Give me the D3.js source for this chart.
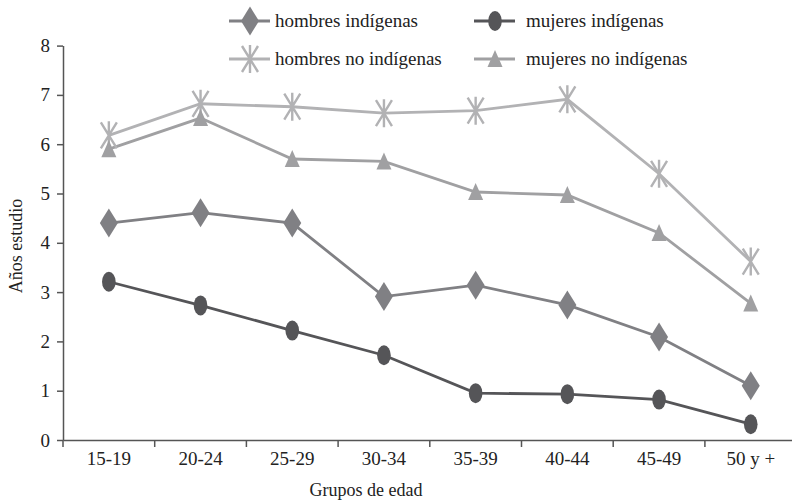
<!DOCTYPE html>
<html>
<head>
<meta charset="utf-8">
<script src="https://cdn.jsdelivr.net/npm/d3@7"></script>
<style>
  html, body { margin: 0; padding: 0; background: #fff; }
  text { font-family: "Liberation Serif", "DejaVu Serif", serif; fill: #222; }
</style>
</head>
<body>
<svg id="chart" width="792" height="500"></svg>
<script>
const categories = ["15-19", "20-24", "25-29", "30-34", "35-39", "40-44", "45-49", "50 y +"];
const hombresIndigenas   = [4.40, 4.61, 4.40, 2.91, 3.14, 2.74, 2.09, 1.10];
const mujeresIndigenas   = [3.21, 2.73, 2.22, 1.72, 0.95, 0.93, 0.82, 0.32];
const hombresNoIndigenas = [6.18, 6.82, 6.76, 6.63, 6.68, 6.91, 5.40, 3.62];
const mujeresNoIndigenas = [5.90, 6.53, 5.70, 5.65, 5.03, 4.97, 4.20, 2.77];
const yTicks = [0, 1, 2, 3, 4, 5, 6, 7, 8];

const series = [
  { name: "hombres indígenas", values: hombresIndigenas, color: "#808084", marker: "diamond" },
  { name: "mujeres indígenas", values: mujeresIndigenas, color: "#555558", marker: "circle" },
  { name: "hombres no indígenas", values: hombresNoIndigenas, color: "#b2b2b4", marker: "star" },
  { name: "mujeres no indígenas", values: mujeresNoIndigenas, color: "#a0a0a2", marker: "triangle" }
];

const svg = d3.select("#chart");
const plotLeft = 63, plotBottom = 440, plotTop = 45.6, bandW = 91.7;
const x = d3.scaleBand().domain(categories).range([plotLeft, plotLeft + bandW * categories.length]);
const y = d3.scaleLinear().domain([0, 8]).range([plotBottom, plotTop]);
const cx = c => x(c) + x.bandwidth() / 2;

function drawMarker(g, type, color) {
  if (type === "diamond") {
    g.append("path").attr("d", "M0,-14.5 L9,0 L0,14.5 L-9,0 Z").attr("fill", color);
  } else if (type === "circle") {
    g.append("ellipse").attr("rx", 6.8).attr("ry", 10).attr("fill", color);
  } else if (type === "triangle") {
    g.append("path").attr("d", "M0,-9 L7.5,8 L-7.5,8 Z").attr("fill", color);
  } else if (type === "star") {
    g.append("path")
      .attr("d", "M0,-14 L0,14 M-8,-13 L8,13 M8,-13 L-8,13")
      .attr("stroke", color).attr("stroke-width", 2.4).attr("fill", "none");
  }
}

// Axes
const xAxis = d3.axisBottom(x).tickSize(0).tickPadding(12);
const gx = svg.append("g").attr("transform", `translate(0,${plotBottom})`).call(xAxis);
gx.select(".domain").attr("stroke", "#555").attr("stroke-width", 1.5);
gx.selectAll("text").attr("font-size", 19).attr("font-family", "Liberation Serif").attr("fill", "#222");
// boundary ticks between bands
svg.append("g").selectAll("line")
  .data(categories)
  .join("line")
  .attr("x1", d => x(d)).attr("x2", d => x(d))
  .attr("y1", plotBottom).attr("y2", plotBottom + 7)
  .attr("stroke", "#555").attr("stroke-width", 1.5);

const yAxis = d3.axisLeft(y).tickValues(yTicks).tickSize(6).tickPadding(7).tickSizeOuter(0);
const gy = svg.append("g").attr("transform", `translate(${plotLeft},0)`).call(yAxis);
gy.select(".domain").attr("stroke", "#555").attr("stroke-width", 1.5);
gy.selectAll(".tick line").attr("stroke", "#555").attr("stroke-width", 1.5);
gy.selectAll("text").attr("font-size", 19).attr("font-family", "Liberation Serif").attr("fill", "#222");

// Axis titles
svg.append("text").attr("x", 366).attr("y", 496).attr("text-anchor", "middle")
  .attr("font-size", 18).text("Grupos de edad");
svg.append("text").attr("transform", "translate(22,246) rotate(-90)").attr("text-anchor", "middle")
  .attr("font-size", 18).text("Años estudio");

// Lines and markers
const line = d3.line().x((d, i) => cx(categories[i])).y(d => y(d));
series.forEach(s => {
  svg.append("path").datum(s.values).attr("d", line)
    .attr("fill", "none").attr("stroke", s.color).attr("stroke-width", 2.8);
});
series.forEach(s => {
  s.values.forEach((v, i) => {
    const g = svg.append("g").attr("transform", `translate(${cx(categories[i])},${y(v)})`);
    drawMarker(g, s.marker, s.color);
  });
});

// Legend
const legendPos = [
  { lx: 229, ly: 21 }, { lx: 474, ly: 21 },
  { lx: 229, ly: 59 }, { lx: 474, ly: 59 }
];
series.forEach((s, i) => {
  const p = legendPos[i];
  const g = svg.append("g").attr("transform", `translate(${p.lx},${p.ly})`);
  g.append("line").attr("x1", 0).attr("x2", 41).attr("y1", 0).attr("y2", 0)
    .attr("stroke", s.color).attr("stroke-width", 3);
  const m = g.append("g").attr("transform", "translate(21,0)");
  drawMarker(m, s.marker, s.color);
  g.append("text").attr("x", i % 2 === 0 ? 46 : 52).attr("y", 0).attr("dy", "0.32em")
    .attr("font-size", 19).text(s.name);
});
</script>
</body>
</html>
